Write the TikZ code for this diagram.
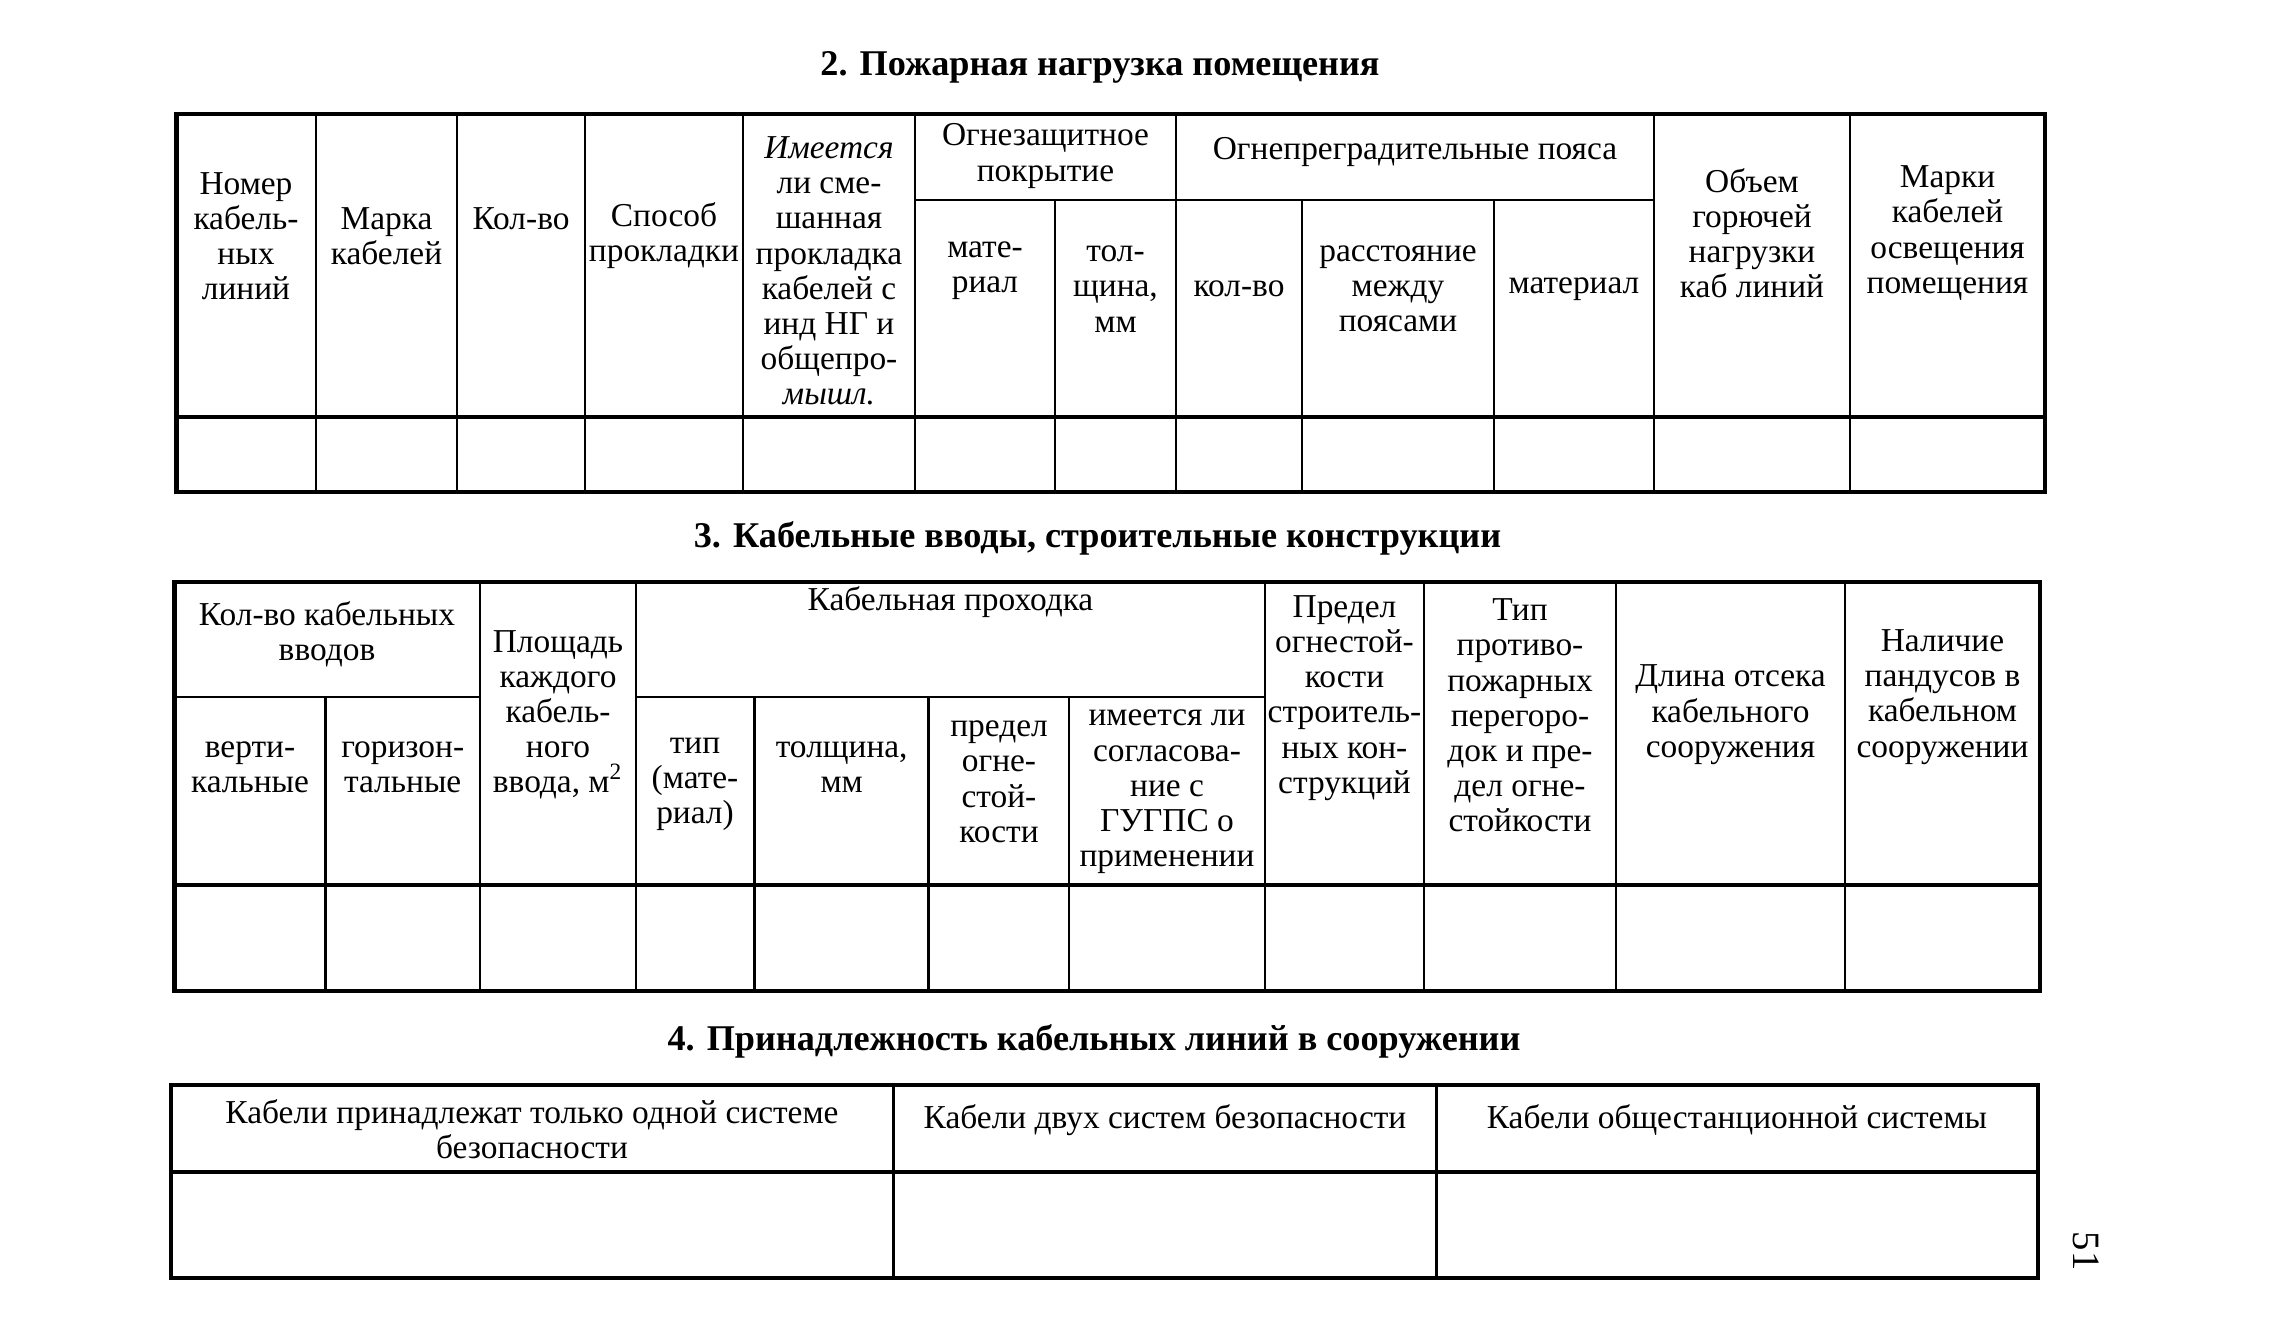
\documentclass[tikz,border=0pt]{standalone}
\usepackage{fontspec}
\setmainfont{Liberation Serif}

\tikzset{
  frame/.style={line width=1.3pt},
  rule/.style={line width=0.7pt},
  head/.style={align=center, inner sep=0pt, font=\fontsize{9.5}{10}\selectfont},
  caption/.style={inner sep=0pt, font=\bfseries\fontsize{10.3}{12}\selectfont},
}

\begin{document}
\begin{tikzpicture}[x=0.01cm, y=-0.01cm]
\useasboundingbox (0,0) rectangle (2287,1330);

% table 2 -- fire load
\node[caption] (cap2) at (1100,67) {2. Пожарная нагрузка помещения};
\draw[frame] (176.7,114) rectangle (2045,492);
\draw[frame] (176.7,417) -- (2045,417);
\draw[rule] (316,114) -- (316,492);
\draw[rule] (457,114) -- (457,492);
\draw[rule] (585,114) -- (585,492);
\draw[rule] (743,114) -- (743,492);
\draw[rule] (915,114) -- (915,492);
\draw[rule] (1176,114) -- (1176,492);
\draw[rule] (1654,114) -- (1654,492);
\draw[rule] (1850,114) -- (1850,492);
\draw[rule] (915,200) -- (1654,200);
\draw[rule] (1055,200) -- (1055,492);
\draw[rule] (1302,200) -- (1302,492);
\draw[rule] (1494,200) -- (1494,492);

\node[head] (nomer) at (246,236) {Номер\\кабель-\\ных\\линий};
\node[head] (marka) at (386.5,236) {Марка\\кабелей};
\node[head] (kolvo) at (521,219) {Кол-во};
\node[head] (sposob) at (664,236) {Способ\\прокладки};
\node[head] (smesh) at (829,271) {\textit{Имеется}\\ли сме-\\шанная\\прокладка\\кабелей с\\инд НГ и\\общепро-\\\textit{мышл.}};
\node[head] (pokr) at (1045.5,156) {Огнезащитное\\покрытие};
\node[head] (pokrmat) at (985,271) {мате-\\риал};
\node[head] (pokrtol) at (1115.5,289) {тол-\\щина,\\мм};
\node[head] (poyas) at (1415,152) {Огнепреградительные пояса};
\node[head] (poyaskol) at (1239,289) {кол-во};
\node[head] (poyasras) at (1398,289) {расстояние\\между\\поясами};
\node[head] (poyasmat) at (1574,289) {материал};
\node[head] (obem) at (1752,233) {Объем\\горючей\\нагрузки\\каб линий};
\node[head] (osv) at (1947.5,233) {Марки\\кабелей\\освещения\\помещения};

% table 3 -- cable entries
\node[caption] (cap3) at (1097.5,538) {3. Кабельные вводы, строительные конструкции};
\draw[frame] (174.6,582) rectangle (2040,991);
\draw[frame] (174.6,885) -- (2040,885);
\draw[rule] (480,582) -- (480,991);
\draw[rule] (636,582) -- (636,991);
\draw[rule] (1265,582) -- (1265,991);
\draw[rule] (1424,582) -- (1424,991);
\draw[rule] (1616,582) -- (1616,991);
\draw[rule] (1845,582) -- (1845,991);
\draw[rule] (174.6,697) -- (480,697);
\draw[rule] (636,697) -- (1265,697);
\draw[rule] (325.4,697) -- (325.4,991);
\draw[rule] (754.7,697) -- (754.7,991);
\draw[rule] (928.7,697) -- (928.7,991);
\draw[rule] (1069,697) -- (1069,991);

\node[head] (vvody) at (327,634.4) {Кол-во кабельных\\вводов};
\node[head] (vert) at (250,767) {верти-\\кальные};
\node[head] (gor) at (402.7,767) {горизон-\\тальные};
\node[head] (plosh) at (558,714.7) {Площадь\\каждого\\кабель-\\ного\\ввода, м\textsuperscript{2}};
\node[head] (prohod) at (950.5,602.4) {Кабельная проходка};
\node[head] (tip) at (695,784.7) {тип\\(мате-\\риал)};
\node[head] (tolsh) at (841.7,767) {толщина,\\мм};
\node[head] (predel) at (999,781.8) {предел\\огне-\\стой-\\кости};
\node[head] (gugps) at (1167,792) {имеется ли\\согласова-\\ние с\\ГУГПС о\\применении};
\node[head] (stroit) at (1344.5,698) {Предел\\огнестой-\\кости\\строитель-\\ных кон-\\струкций};
\node[head] (peregor) at (1520,715.4) {Тип\\противо-\\пожарных\\перегоро-\\док и пре-\\дел огне-\\стойкости};
\node[head] (otsek) at (1730.5,714.7) {Длина отсека\\кабельного\\сооружения};
\node[head] (pandus) at (1942.5,697) {Наличие\\пандусов в\\кабельном\\сооружении};

% table 4 -- cable ownership
\node[caption] (cap4) at (1094,1041) {4. Принадлежность кабельных линий в сооружении};
\draw[frame] (171,1085) rectangle (2038,1278);
\draw[frame] (171,1172) -- (2038,1172);
\draw[rule] (893.6,1085) -- (893.6,1278);
\draw[rule] (1436.4,1085) -- (1436.4,1278);

\node[head] (odna) at (532,1129) {Кабели принадлежат только одной системе\\безопасности};
\node[head] (dve) at (1165,1120) {Кабели двух систем безопасности};
\node[head] (obsh) at (1737,1120) {Кабели общестанционной системы};

\node[head, rotate=-90, font=\fontsize{11}{12}\selectfont] (page) at (2085.6,1251) {51};
\end{tikzpicture}
\end{document}
